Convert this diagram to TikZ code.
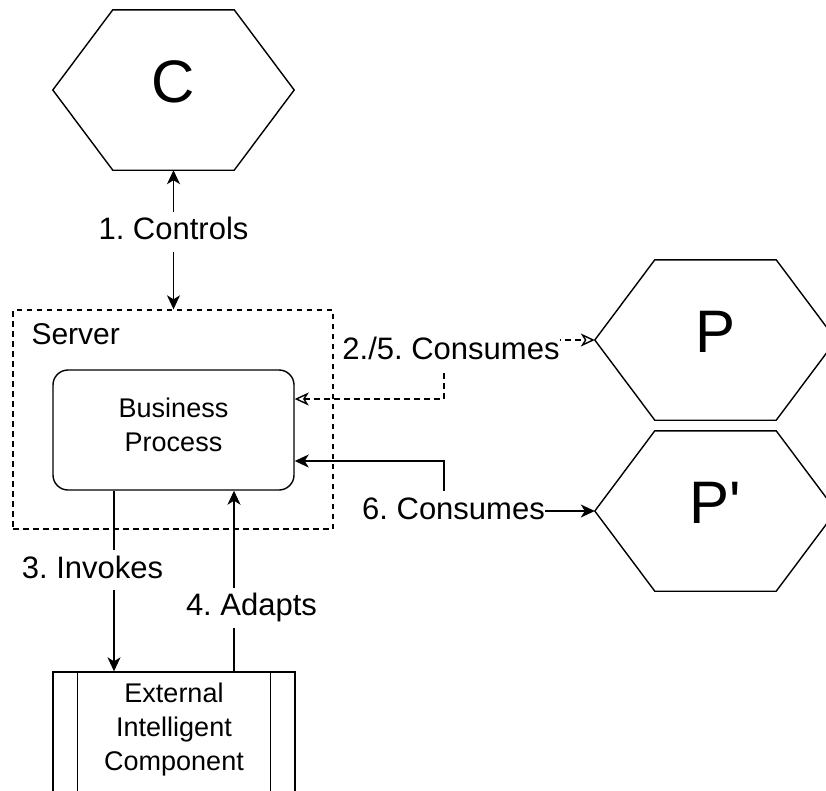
\documentclass[tikz,border=0pt]{standalone}
\usepackage{fontspec}
\setmainfont{Liberation Sans}
\usetikzlibrary{arrows.meta,calc}
\frenchspacing

% outline of a flat-topped hexagon drawn around a node's bounding box
\newcommand\hexoutline[1]{%
  \draw[edge] ($(#1.north west)+(60,0)$) -- ($(#1.north east)+(-60,0)$)
    -- (#1.east) -- ($(#1.south east)+(-60,0)$)
    -- ($(#1.south west)+(60,0)$) -- (#1.west) -- cycle;}

\begin{document}
\begin{tikzpicture}[x=1pt,y=-1pt,
  edge/.style={line width=1.4pt, draw=black},
  dashedge/.style={edge, dash pattern=on 5.5pt off 4.5pt},
  solidtips/.style={>={Stealth[length=14pt,width=13pt,inset=4pt]}},
  opentips/.style={>={Stealth[open,length=14pt,width=13pt,inset=4pt]}},
  hexbox/.style={minimum width=241pt, minimum height=160pt, inner sep=0pt,
    font=\fontsize{60}{72}\selectfont, text depth=17pt},
  procbox/.style={edge, minimum width=241pt, minimum height=120pt,
    inner sep=0pt, align=center, font=\fontsize{27}{34}\selectfont},
  lbl/.style={fill=white, inner sep=0pt, font=\fontsize{31}{37}\selectfont,
    text height=22pt, text depth=6pt, minimum height=40pt},
  solidtips]

\clip (0,0) rectangle (826,790);

% actors
\node[hexbox] (C)  at (173.5,90)  {C};
\node[hexbox] (P)  at (715.5,340) {P};
\node[hexbox] (P2) at (715.5,511) {P\textquotesingle};
\hexoutline{C}
\hexoutline{P}
\hexoutline{P2}

% server with its business process
\node[dashedge, draw, minimum width=320pt, minimum height=219pt, inner sep=0pt]
  (server) at (173,419.5) {};
\node[anchor=base west, font=\fontsize{30}{36}\selectfont] (servertitle)
  at (28,344) {Server};
\node[procbox, draw, rounded corners=15pt] (BP) at (173.5,430)
  {Business\\Process\strut};

% external component (process shape with side bars)
\node[procbox, draw, minimum width=242pt] (EIC) at (174,732)
  {External\\Intelligent\\Component\strut};
\draw[edge] ([xshift=25pt]EIC.north west) -- ([xshift=25pt]EIC.south west);
\draw[edge] ([xshift=-25pt]EIC.north east) -- ([xshift=-25pt]EIC.south east);

% routing column for the consume links
\coordinate (bend) at (444,0);

% connectors
\draw[edge, <->] (C.south) --
  node[lbl, pos=0.443] (l1) {1. Controls} (C.south |- server.north);

\draw[edge, ->] ([xshift=-59.5pt]BP.south) --
  node[lbl, pos=0.44, xshift=-21.5pt] (l3) {3. Invokes}
  ([xshift=-59.5pt]BP.south |- EIC.north);

\draw[edge, ->] ([xshift=60.5pt]BP.south |- EIC.north) --
  node[lbl, pos=0.352, xshift=17.5pt] (l4) {4. Adapts}
  ([xshift=60.5pt]BP.south);

\draw[dashedge, opentips, <->] ([yshift=31pt]BP.east) -- ([yshift=31pt]bend |- BP.east)
  -- (bend |- P.west)
  node[lbl, xshift=7pt, yshift=-11pt] (l2) {2./5. Consumes}
  -- (P.west);

\draw[edge, <->] ([yshift=-31pt]BP.east) -- ([yshift=-31pt]bend |- BP.east)
  -- (bend |- P2.west)
  node[lbl, xshift=9.5pt] (l6) {6. Consumes}
  -- (P2.west);

\end{tikzpicture}
\end{document}
